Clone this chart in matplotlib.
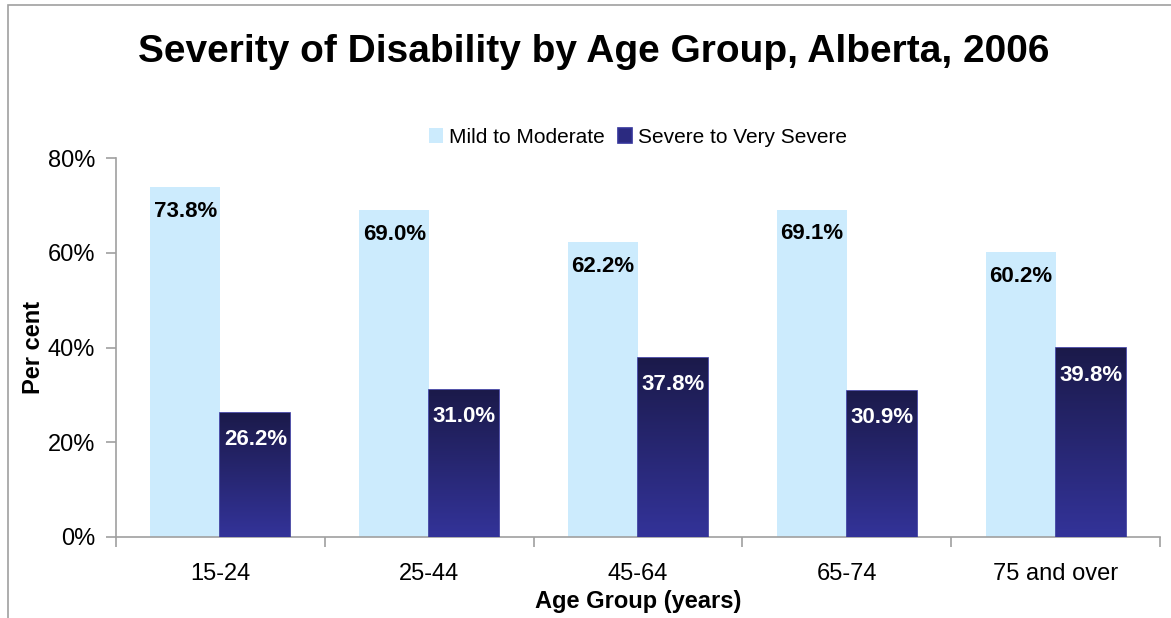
import numpy as np
import matplotlib.pyplot as plt
from matplotlib.colors import LinearSegmentedColormap
from matplotlib.patches import Rectangle

plt.rcParams['font.family'] = ['Liberation Sans', 'DejaVu Sans']

# Data
age_groups = ['15-24', '25-44', '45-64', '65-74', '75 and over']
mild_moderate = [73.8, 69.0, 62.2, 69.1, 60.2]
severe = [26.2, 31.0, 37.8, 30.9, 39.8]

light_color = '#CCEBFD'
grad = LinearSegmentedColormap.from_list('navy', ['#333399', '#1B1A4A'])

fig = plt.figure(figsize=(11.71, 6.18), dpi=100)
ax = fig.add_axes([0.0991, 0.1311, 0.8915, 0.6132])

# figure border (left and top visible)
fig.patches.append(Rectangle((8 / 1171, -0.1), 1.2, 1.1 - 5 / 618,
                             transform=fig.transFigure, fill=False,
                             edgecolor='#A0A0A0', linewidth=1.2))

x = np.arange(len(age_groups))
w = 0.335

ax.bar(x - w / 2, mild_moderate, w, color=light_color, label='Mild to Moderate', zorder=2)
dark = ax.bar(x + w / 2, severe, w, color='#2B2A80', edgecolor='#333399',
              linewidth=1.2, label='Severe to Very Severe', zorder=3)

# gradient fill for dark bars
gradient = np.linspace(0, 1, 256).reshape(-1, 1)
for bar in dark:
    bx, by = bar.get_x(), bar.get_y()
    bw, bh = bar.get_width(), bar.get_height()
    im = ax.imshow(gradient, cmap=grad, aspect='auto', origin='lower',
                   extent=[bx, bx + bw, by, by + bh], zorder=3.5)
    im.set_clip_path(bar)

for i in range(len(age_groups)):
    ax.text(x[i] - w / 2, mild_moderate[i] - 2.9, f'{mild_moderate[i]:.1f}%',
            ha='center', va='top', fontsize=16, fontweight='bold', color='black', zorder=5)
    ax.text(x[i] + w / 2, severe[i] - 3.4, f'{severe[i]:.1f}%',
            ha='center', va='top', fontsize=16, fontweight='bold', color='white', zorder=5)

ax.set_xlim(-0.5, len(age_groups) - 0.5)
ax.set_ylim(0, 80)
ax.set_yticks([0, 20, 40, 60, 80])
ax.set_yticklabels(['0%', '20%', '40%', '60%', '80%'], fontsize=17)
ax.set_xticks(x)
ax.set_xticklabels(age_groups, fontsize=17)
ax.set_xticks(np.arange(-0.5, len(age_groups)), minor=True)
ax.tick_params(axis='x', which='major', length=0, pad=19)
ax.tick_params(axis='x', which='minor', length=7, color='#A0A0A0', width=1.2)
ax.tick_params(axis='y', length=7, color='#A0A0A0', width=1.2, pad=8)

for s in ['top', 'right']:
    ax.spines[s].set_visible(False)
for s in ['left', 'bottom']:
    ax.spines[s].set_color('#A0A0A0')
    ax.spines[s].set_linewidth(1.2)

ax.set_xlabel('Age Group (years)', fontsize=17, fontweight='bold', labelpad=3)
ax.set_ylabel('Per cent', fontsize=17, fontweight='bold', labelpad=2)

fig.text(0.507, 1 - 52 / 618, 'Severity of Disability by Age Group, Alberta, 2006',
         fontsize=28, fontweight='bold', ha='center', va='center')

ax.legend(loc='lower center', bbox_to_anchor=(0.5, 1.0), ncol=2, frameon=False,
          fontsize=15, handlelength=0.7, handleheight=0.7, handletextpad=0.3,
          columnspacing=0.6, borderaxespad=0.15)

fig.savefig('out.png', dpi=100)
